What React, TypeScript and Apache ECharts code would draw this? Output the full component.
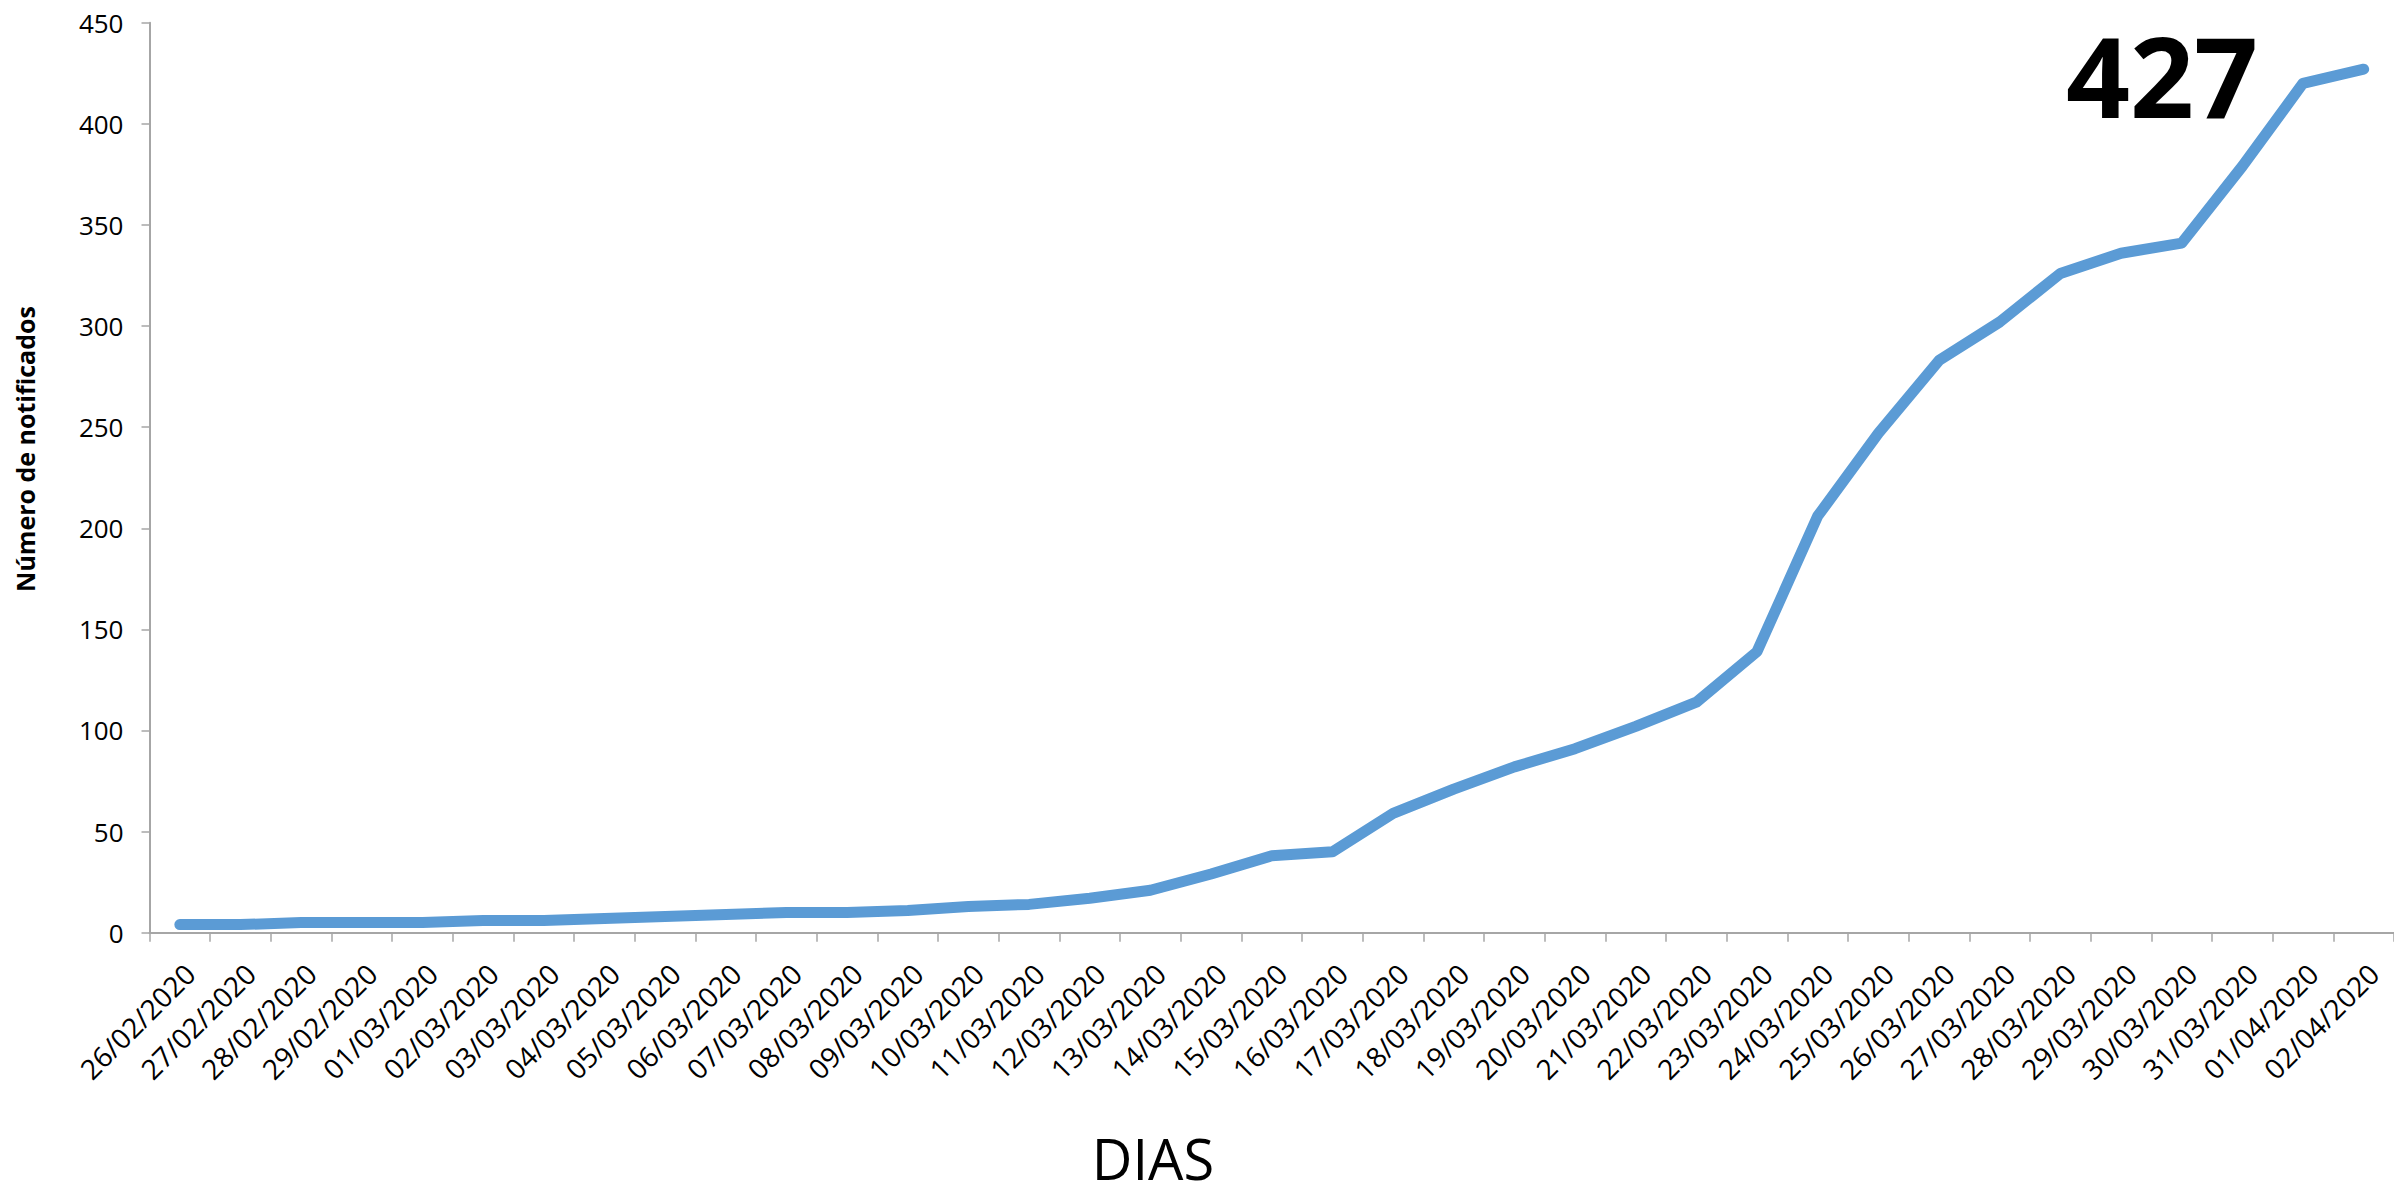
import React, { useEffect, useRef } from "react";
import * as echarts from "echarts";

const categories: string[] = [
  "26/02/2020", "27/02/2020", "28/02/2020", "29/02/2020",
  "01/03/2020", "02/03/2020", "03/03/2020", "04/03/2020", "05/03/2020",
  "06/03/2020", "07/03/2020", "08/03/2020", "09/03/2020", "10/03/2020",
  "11/03/2020", "12/03/2020", "13/03/2020", "14/03/2020", "15/03/2020",
  "16/03/2020", "17/03/2020", "18/03/2020", "19/03/2020", "20/03/2020",
  "21/03/2020", "22/03/2020", "23/03/2020", "24/03/2020", "25/03/2020",
  "26/03/2020", "27/03/2020", "28/03/2020", "29/03/2020", "30/03/2020",
  "31/03/2020", "01/04/2020", "02/04/2020",
];

const notificados: number[] = [
  4, 4, 5, 5, 5, 6, 6, 7, 8, 9, 10, 10, 11, 13, 14, 17, 21, 29, 38, 40,
  59, 71, 82, 91, 102, 114, 139, 206, 247, 283, 302, 326, 336, 341, 379, 420, 427,
];

const yTicks = { min: 0, max: 450, interval: 50 };
const highlightLabel = "427";
const yName = "Número de notificados";
const xName = "DIAS";

export default function App() {
  const ref = useRef<HTMLDivElement>(null);

  useEffect(() => {
    if (!ref.current) return;
    const chart = echarts.init(ref.current, undefined, { renderer: "svg" });
    const axisColor = "#A6A6A6";
    chart.setOption({
      animation: false,
      backgroundColor: "#ffffff",
      grid: { left: 149.5, right: -8, top: 22.7, bottom: 254.3, containLabel: false },
      xAxis: {
        type: "category",
        data: categories,
        boundaryGap: true,
        axisLine: { show: true, lineStyle: { color: axisColor, width: 2 } },
        axisTick: { show: true, length: 9, lineStyle: { color: axisColor, width: 1.5 } },
        axisLabel: {
          interval: 0,
          rotate: 45,
          margin: 26,
          align: "right",
          verticalAlign: "top",
          color: "#000000",
          fontSize: 28,
          fontFamily: "Open Sans",
        },
        splitLine: { show: false },
      },
      yAxis: {
        type: "value",
        min: yTicks.min,
        max: yTicks.max,
        interval: yTicks.interval,
        axisLine: { show: true, lineStyle: { color: axisColor, width: 2 } },
        axisTick: { show: true, length: 8, lineStyle: { color: axisColor, width: 1.5 } },
        axisLabel: {
          margin: 26,
          color: "#000000",
          fontSize: 26,
          fontFamily: "Open Sans",
        },
        splitLine: { show: false },
      },
      series: [
        {
          type: "line",
          data: notificados,
          symbol: "none",
          smooth: false,
          lineStyle: { color: "#5B9BD5", width: 11, cap: "round", join: "round" },
        },
      ],
      graphic: [
        {
          type: "text",
          x: 2258,
          y: 74,
          style: {
            text: highlightLabel,
            textAlign: "right",
            textVerticalAlign: "middle",
            font: 'bold 112px "Open Sans"',
            fill: "#000000",
          },
        },
        {
          type: "text",
          x: 1153,
          y: 1158,
          style: {
            text: xName,
            textAlign: "center",
            textVerticalAlign: "middle",
            font: '56px "Open Sans"',
            fill: "#000000",
          },
        },
        {
          type: "text",
          x: 25,
          y: 449,
          rotation: Math.PI / 2,
          style: {
            text: yName,
            textAlign: "center",
            textVerticalAlign: "middle",
            font: 'bold 25px "Open Sans"',
            fill: "#000000",
          },
        },
      ],
    });
    return () => chart.dispose();
  }, []);

  return (
    <div
      ref={ref}
      style={{ position: "absolute", left: 0, top: 0, width: 2394, height: 1187 }}
    />
  );
}
